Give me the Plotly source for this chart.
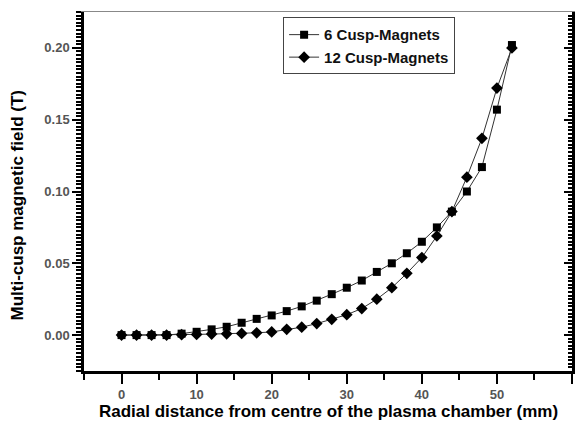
import plotly.graph_objects as go

radial_mm = [0, 2, 4, 6, 8, 10, 12, 14, 16, 18, 20, 22, 24, 26, 28, 30, 32, 34, 36, 38, 40, 42, 44, 46, 48, 50, 52]
field_6cusp = [0.000, 0.000, 0.000, 0.000, 0.001, 0.0023, 0.004, 0.0058, 0.0086, 0.0113, 0.0137, 0.0167,
               0.020, 0.024, 0.0285, 0.033, 0.038, 0.044, 0.050, 0.057, 0.065, 0.075, 0.086, 0.100,
               0.117, 0.157, 0.202]
field_12cusp = [0.000, 0.000, 0.000, 0.000, 0.0003, 0.0005, 0.0007, 0.0009, 0.0012, 0.0016, 0.0022, 0.004,
                0.0055, 0.008, 0.011, 0.0142, 0.0185, 0.025, 0.033, 0.043, 0.054, 0.069, 0.086, 0.110,
                0.137, 0.172, 0.200]
series_names = ["6 Cusp-Magnets", "12 Cusp-Magnets"]
x_tick_step = 10
y_tick_step = 0.05

FONT = "Liberation Sans, Arial, sans-serif"

fig = go.Figure()
fig.add_trace(go.Scatter(
    x=radial_mm, y=field_6cusp, name=series_names[0], mode="lines+markers",
    line=dict(color="#333333", width=1),
    marker=dict(symbol="square", size=8, color="black"),
))
fig.add_trace(go.Scatter(
    x=radial_mm, y=field_12cusp, name=series_names[1], mode="lines+markers",
    line=dict(color="#333333", width=1),
    marker=dict(symbol="diamond", size=9, color="black"),
))
# invisible helper trace so the frame axes (top / right) are drawn with their ticks
fig.add_trace(go.Scatter(
    x=radial_mm, y=field_6cusp, xaxis="x2", yaxis="y2", mode="none",
    showlegend=False, hoverinfo="skip",
))

xr = [-5, 60]
yr = [-0.025, 0.225]

fig.update_layout(
    width=579, height=428,
    margin=dict(l=84, r=7, t=12, b=57),
    paper_bgcolor="white", plot_bgcolor="white",
    font=dict(family=FONT, color="black"),
    showlegend=True,
    legend=dict(
        x=0.408, y=0.985, xanchor="left", yanchor="top",
        bordercolor="#444444", borderwidth=1, bgcolor="white",
        font=dict(family=FONT, size=15, weight="bold", color="#111111"),
        tracegroupgap=0, itemwidth=30,
    ),
    xaxis=dict(
        range=xr, tickmode="linear", tick0=0, dtick=x_tick_step,
        ticks="outside", ticklen=10, tickwidth=2, tickcolor="black",
        showline=True, linecolor="black", linewidth=2.5,
        showgrid=False, zeroline=False,
        tickfont=dict(family=FONT, size=13, weight="bold", color="#555555"),
        minor=dict(ticks="outside", dtick=x_tick_step / 2, tick0=0, ticklen=6, tickwidth=2,
                   tickcolor="black", showgrid=False),
    ),
    yaxis=dict(
        range=yr, tickmode="linear", tick0=0, dtick=y_tick_step, tickformat=".2f",
        ticks="outside", ticklen=9, tickwidth=2, tickcolor="black",
        showline=True, linecolor="black", linewidth=2.5,
        showgrid=False, zeroline=False,
        tickfont=dict(family=FONT, size=13, weight="bold", color="#555555"),
        minor=dict(ticks="outside", dtick=0.0025, tick0=0, ticklen=5, tickwidth=1.5,
                   tickcolor="black", showgrid=False),
    ),
    xaxis2=dict(
        range=xr, overlaying="x", side="top", anchor="y2", showline=True, linecolor="#888888",
        linewidth=1, ticks="", showticklabels=False, showgrid=False, zeroline=False,
    ),
    yaxis2=dict(
        range=yr, overlaying="y", side="right", anchor="x2", showline=True, linecolor="black",
        linewidth=2.5, tickmode="linear", tick0=0, dtick=y_tick_step, ticks="inside", ticklen=8,
        tickwidth=2, tickcolor="black", showticklabels=False, showgrid=False, zeroline=False,
        minor=dict(ticks="inside", dtick=0.0025, tick0=0, ticklen=4, tickwidth=1.5,
                   tickcolor="black", showgrid=False),
    ),
    annotations=[
        dict(text="Radial distance from centre of the plasma chamber (mm)", xref="paper", yref="paper",
             x=0.50, y=-0.112, xanchor="center", yanchor="middle", showarrow=False,
             font=dict(family=FONT, size=17, weight="bold", color="black")),
        dict(text="Multi-cusp magnetic field (T)", xref="paper", yref="paper",
             x=-0.136, y=0.46, xanchor="center", yanchor="middle", textangle=-90, showarrow=False,
             font=dict(family=FONT, size=17, weight="bold", color="black")),
    ],
)

fig.write_html("out.html")
